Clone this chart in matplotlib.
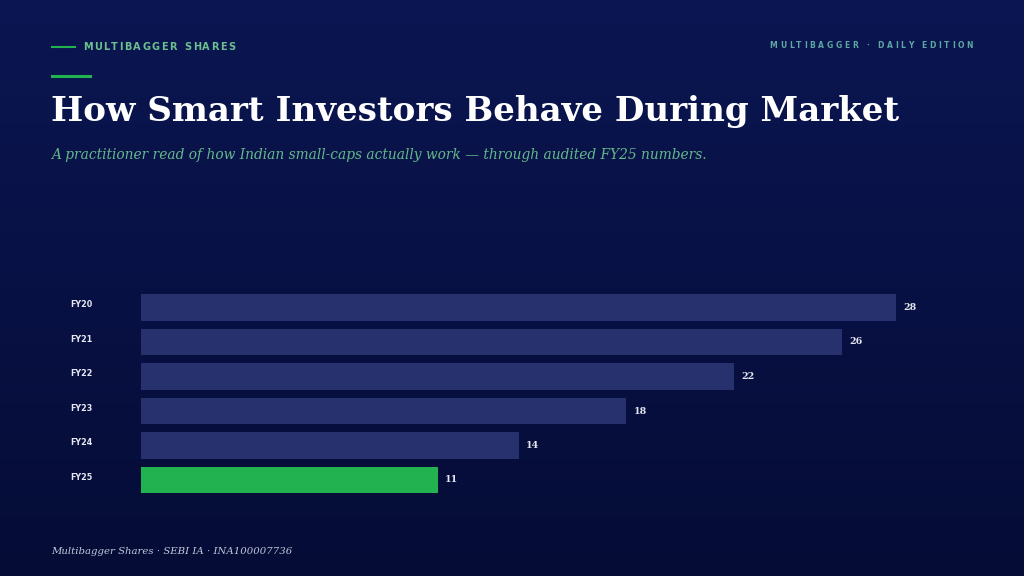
import matplotlib
matplotlib.use("Agg")
import matplotlib.pyplot as plt
import numpy as np
from matplotlib.transforms import blended_transform_factory

# data
years = ["FY20", "FY21", "FY22", "FY23", "FY24", "FY25"]
values = [28, 26, 22, 18, 14, 11]
highlight = "FY25"

title = "How Smart Investors Behave During Market"
subtitle = "A practitioner read of how Indian small-caps actually work \u2014 through audited FY25 numbers."
kicker = "MULTIBAGGER SHARES"
edition = "MULTIBAGGER \u00b7 DAILY EDITION"
footer = "Multibagger Shares \u00b7 SEBI IA \u00b7 INA100007736"

W, H = 1024, 576
fig = plt.figure(figsize=(W / 100, H / 100), dpi=100)

# background gradient
bg = fig.add_axes([0, 0, 1, 1], zorder=0)
grad = np.linspace(0, 1, 256).reshape(-1, 1)
top = np.array([0x0b, 0x16, 0x52]) / 255
bot = np.array([0x05, 0x0c, 0x36]) / 255
img = top + (bot - top) * grad[:, :, None]
bg.imshow(img, aspect="auto", extent=[0, 1, 0, 1], origin="upper")
bg.set_xlim(0, 1)
bg.set_ylim(0, 1)
bg.axis("off")

renderer = fig.canvas.get_renderer()


def px(x, y):
    return x / W, 1 - y / H


def tracked(x, y, s, track, ha="left", **kw):
    # draw text letter by letter with extra spacing (pixels)
    widths = []
    for ch in s:
        t = fig.text(0, 0, ch if ch != " " else "i", **kw)
        w = t.get_window_extent(renderer).width
        if ch == " ":
            w = w * 1.2
        widths.append(w)
        t.remove()
    total = sum(widths) + track * (len(s) - 1)
    cx = x - total if ha == "right" else x
    for ch, w in zip(s, widths):
        if ch != " ":
            fig.text(*px(cx, y), ch, va="center", ha="left", **kw)
        cx += w + track


green = "#22b24f"
bar_col = "#27316e"

# header
fig.add_artist(plt.Line2D([52 / W, 75 / W], [1 - 47 / H] * 2, color=green, lw=1.5))
tracked(83, 47, kicker, 1.5, fontsize=7.0, fontweight="bold", color="#6cc08e",
        family="DejaVu Sans")
tracked(973, 46, edition, 2.6, ha="right", fontsize=5.5, fontweight="bold",
        color="#5ea6a0", family="DejaVu Sans")
fig.add_artist(plt.Line2D([52 / W, 90 / W], [1 - 76 / H] * 2, color=green, lw=2.2))

fig.text(*px(51, 111), title, fontsize=24.6, fontweight="bold", color="white",
         family="DejaVu Serif", va="center", ha="left")
fig.text(*px(51, 155), subtitle, fontsize=9.9, style="italic", color="#63b98a",
         family="DejaVu Serif", va="center", ha="left")
fig.text(*px(51, 551), footer, fontsize=7.3, style="italic", color="#c4c8dc",
         family="DejaVu Serif", va="center", ha="left")

# bar chart
scale = (896 - 141) / 28.0
xmax = 31.5
ax_w = xmax * scale
ax_top, ax_bot = 290.25, 497.25
ax = fig.add_axes([141 / W, 1 - ax_bot / H, ax_w / W, (ax_bot - ax_top) / H], zorder=1)
ax.patch.set_alpha(0)
y = np.arange(len(years))
colors = [green if yr == highlight else bar_col for yr in years]
ax.barh(y, values, height=0.76, color=colors)
ax.set_xlim(0, xmax)
ax.set_ylim(len(years) - 0.5, -0.5)
for s in ax.spines.values():
    s.set_visible(False)
ax.set_xticks([])
ax.set_yticks([])

trans = blended_transform_factory(fig.transFigure, ax.transData)
for yi, yr, v in zip(y, years, values):
    ax.text(70 / W, yi - 0.08, yr, transform=trans, fontsize=5.8, fontweight="bold",
            color="#e6e8f2", family="DejaVu Sans", va="center", ha="left")
    ax.text(v + 7 / scale, yi, str(v), fontsize=6.8, fontweight="bold",
            color="#e6e8f2", family="DejaVu Serif", va="center", ha="left")

fig.savefig("out.png", dpi=100)
